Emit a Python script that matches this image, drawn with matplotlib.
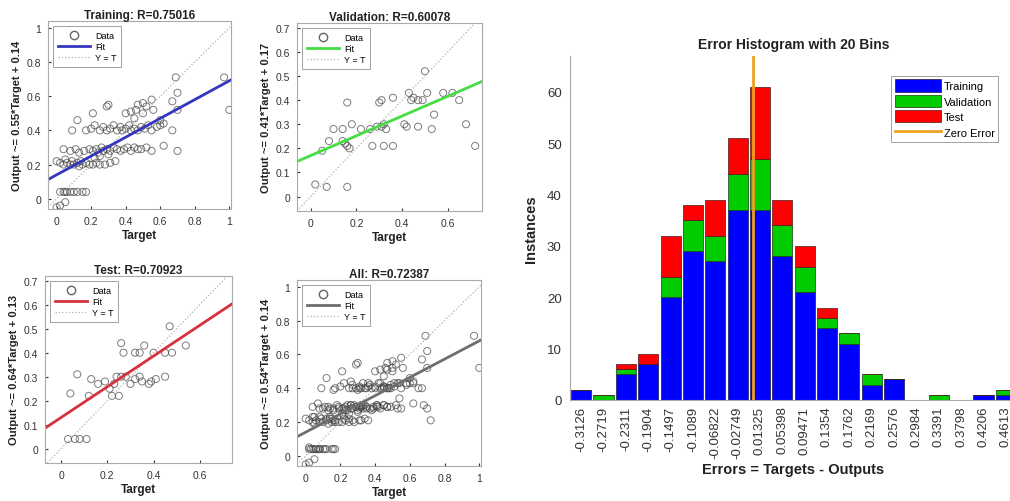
import matplotlib

matplotlib.use("Agg")

import matplotlib.pyplot as plt
import numpy as np
from matplotlib.lines import Line2D
from matplotlib.patches import Patch

plt.rcParams["font.family"] = ["Liberation Sans", "DejaVu Sans"]

W, H = 1010, 502

# regression data: (target, output) pairs
train_pts = [
    (0.97, 0.71), (1.0, 0.52), (0.69, 0.71), (0.70, 0.62), (0.67, 0.57), (0.70, 0.52),
    (0.70, 0.28), (0.67, 0.40), (0.62, 0.31), (0.60, 0.46),
    (0.02, 0.04), (0.04, 0.04), (0.05, 0.04), (0.06, 0.04), (0.08, 0.04), (0.10, 0.04),
    (0.12, 0.04), (0.15, 0.04), (0.17, 0.04), (0.0, -0.05), (0.02, -0.04), (0.05, -0.02),
    (0.0, 0.22), (0.02, 0.21), (0.04, 0.20), (0.06, 0.21), (0.08, 0.20), (0.10, 0.20),
    (0.12, 0.21), (0.13, 0.19), (0.15, 0.20), (0.17, 0.21), (0.19, 0.20), (0.21, 0.20),
    (0.23, 0.21), (0.25, 0.20), (0.28, 0.20), (0.31, 0.21), (0.34, 0.22), (0.05, 0.23),
    (0.09, 0.22), (0.14, 0.22),
    (0.04, 0.29), (0.08, 0.28), (0.11, 0.29), (0.13, 0.27), (0.16, 0.28), (0.19, 0.29),
    (0.21, 0.28), (0.23, 0.29), (0.24, 0.27), (0.26, 0.30), (0.27, 0.28), (0.29, 0.29),
    (0.31, 0.28), (0.33, 0.30), (0.35, 0.29), (0.37, 0.28), (0.39, 0.29), (0.41, 0.30),
    (0.43, 0.28), (0.45, 0.30), (0.47, 0.29), (0.49, 0.29), (0.52, 0.30), (0.55, 0.28),
    (0.25, 0.25), (0.22, 0.24), (0.30, 0.26),
    (0.09, 0.40), (0.17, 0.40), (0.20, 0.41), (0.22, 0.43), (0.25, 0.40), (0.27, 0.42),
    (0.29, 0.40), (0.31, 0.41), (0.33, 0.43), (0.35, 0.40), (0.37, 0.42), (0.38, 0.40),
    (0.40, 0.41), (0.42, 0.43), (0.43, 0.40), (0.45, 0.41), (0.47, 0.40), (0.49, 0.42),
    (0.51, 0.41), (0.53, 0.43), (0.55, 0.40), (0.58, 0.42), (0.60, 0.43), (0.62, 0.44),
    (0.12, 0.46), (0.21, 0.50), (0.29, 0.54), (0.30, 0.55), (0.43, 0.51), (0.46, 0.52),
    (0.47, 0.55), (0.50, 0.56), (0.52, 0.54), (0.55, 0.58), (0.50, 0.50), (0.56, 0.52),
    (0.45, 0.47), (0.40, 0.50),
]
val_pts = [
    (0.50, 0.52), (0.16, 0.39), (0.31, 0.40), (0.30, 0.39), (0.36, 0.41), (0.43, 0.43),
    (0.44, 0.40), (0.45, 0.41), (0.47, 0.40), (0.49, 0.40), (0.51, 0.43), (0.58, 0.43),
    (0.62, 0.43), (0.65, 0.40), (0.54, 0.34), (0.68, 0.30), (0.72, 0.21), (0.47, 0.29),
    (0.53, 0.28), (0.42, 0.29), (0.41, 0.30), (0.32, 0.30), (0.31, 0.29), (0.29, 0.29),
    (0.26, 0.28), (0.33, 0.28), (0.22, 0.28), (0.18, 0.30), (0.14, 0.28), (0.10, 0.28),
    (0.08, 0.23), (0.05, 0.19), (0.15, 0.22), (0.16, 0.21), (0.17, 0.20), (0.27, 0.21),
    (0.32, 0.21), (0.36, 0.21), (0.02, 0.05), (0.07, 0.04), (0.16, 0.04), (0.14, 0.23),
]
test_pts = [
    (0.47, 0.51), (0.26, 0.44), (0.27, 0.40), (0.36, 0.43), (0.34, 0.40), (0.32, 0.40),
    (0.40, 0.40), (0.45, 0.40), (0.48, 0.40), (0.54, 0.43), (0.07, 0.31), (0.04, 0.23),
    (0.13, 0.29), (0.16, 0.27), (0.19, 0.28), (0.24, 0.30), (0.26, 0.30), (0.23, 0.27),
    (0.28, 0.30), (0.30, 0.27), (0.32, 0.29), (0.34, 0.30), (0.35, 0.28), (0.38, 0.27),
    (0.39, 0.28), (0.41, 0.29), (0.45, 0.30), (0.21, 0.25), (0.22, 0.22), (0.25, 0.22),
    (0.12, 0.22), (0.03, 0.04), (0.06, 0.04), (0.08, 0.04), (0.11, 0.04),
]

panels = [
    # title, points, fit slope, intercept, colour, slope text, intercept text
    ("Training: R=0.75016", train_pts, 0.55, 0.14, "#3535c0", "0.55", "0.14"),
    ("Validation: R=0.60078", val_pts, 0.41, 0.17, "#44dd44", "0.41", "0.17"),
    ("Test: R=0.70923", test_pts, 0.64, 0.13, "#d6323c", "0.64", "0.13"),
    ("All: R=0.72387", train_pts + val_pts + test_pts, 0.54, 0.14, "#6e6e6e", "0.54", "0.14"),
]
boxes = [(48, 22, 231, 210), (297, 24, 482, 212), (45, 277, 232, 464), (297, 281, 481, 467)]
lims = [((-0.05, 1.01), (-0.06, 1.04)), ((-0.06, 0.75), (-0.06, 0.72)),
        ((-0.07, 0.74), (-0.06, 0.72)), ((-0.05, 1.01), (-0.06, 1.04))]
xticks = [np.arange(0, 1.01, 0.2), np.arange(0, 0.61, 0.2), np.arange(0, 0.61, 0.2), np.arange(0, 1.01, 0.2)]
yticks = [np.arange(0, 1.01, 0.2), np.arange(0, 0.71, 0.1), np.arange(0, 0.71, 0.1), np.arange(0, 1.01, 0.2)]

# histogram data
bin_labels = ["-0.3126", "-0.2719", "-0.2311", "-0.1904", "-0.1497", "-0.1089", "-0.06822",
              "-0.02749", "0.01325", "0.05398", "0.09471", "0.1354", "0.1762", "0.2169",
              "0.2576", "0.2984", "0.3391", "0.3798", "0.4206", "0.4613"]
hist_train = [2, 0, 5, 7, 20, 29, 27, 37, 37, 28, 21, 14, 11, 3, 4, 0, 0, 0, 1, 1]
hist_val = [0, 1, 1, 0, 4, 6, 5, 7, 10, 6, 5, 2, 2, 2, 0, 0, 1, 0, 0, 1]
hist_test = [0, 0, 1, 2, 8, 3, 7, 7, 14, 5, 4, 2, 0, 0, 0, 0, 0, 0, 0, 0]


def px_axes(fig, x0, y0, x1, y1):
    return fig.add_axes([x0 / W, (H - y1) / H, (x1 - x0) / W, (y1 - y0) / H])


fig = plt.figure(figsize=(W / 100, H / 100), dpi=100)

for i, (title, pts, a, b, color, sa, sb) in enumerate(panels):
    ax = px_axes(fig, *boxes[i])
    t = np.array([p[0] for p in pts])
    o = np.array([p[1] for p in pts])
    xl, yl = lims[i]
    ax.plot(xl, xl, ls=":", color="#b0b0b0", lw=0.9)
    xs = np.array(xl)
    ax.plot(xs, a * xs + b, color=color, lw=2.0)
    ax.scatter(t, o, s=26, facecolors="none", edgecolors="#444444", linewidths=0.7, alpha=0.7)
    ax.set_xlim(xl)
    ax.set_ylim(yl)
    ax.set_xticks(xticks[i])
    ax.set_yticks(yticks[i])
    ax.set_xticklabels([f"{v:g}" for v in xticks[i]])
    ax.set_yticklabels([f"{v:g}" for v in yticks[i]])
    ax.tick_params(labelsize=7.5, length=2, colors="#333333", direction="in", pad=5)
    for s in ax.spines.values():
        s.set_color("#aaaaaa")
        s.set_linewidth(0.8)
    ax.set_title(title, fontsize=8.5, fontweight="bold", pad=2, color="#222222")
    ax.set_xlabel("Target", fontsize=8.5, fontweight="bold", labelpad=2, color="#222222")
    ax.set_ylabel(f"Output ~= {sa}*Target + {sb}", fontsize=8, fontweight="bold",
                  labelpad=3, color="#222222")
    handles = [
        Line2D([], [], marker="o", ls="none", mfc="none", mec="#666666", ms=6),
        Line2D([], [], color=color, lw=2),
        Line2D([], [], color="#b0b0b0", ls=":", lw=0.9),
    ]
    leg = ax.legend(handles, ["Data", "Fit", "Y = T"], loc="upper left", fontsize=6.5,
                    frameon=True, fancybox=False, borderpad=0.5, labelspacing=0.25,
                    handlelength=3.6, handletextpad=0.5, borderaxespad=0.6)
    leg.get_frame().set_edgecolor("#888888")
    leg.get_frame().set_linewidth(0.7)

# error histogram
centers = np.array([float(v) for v in bin_labels])
step = np.mean(np.diff(centers))
ax = px_axes(fig, 570, 57, 1017, 401)
train = np.array(hist_train)
val = np.array(hist_val)
test = np.array(hist_test)
bw = 0.9 * step
b1 = ax.bar(centers, train, width=bw, color="#0000ff", edgecolor="#1a1a4a", lw=0.5)
b2 = ax.bar(centers, val, width=bw, bottom=train, color="#00cc00", edgecolor="#1a3a1a", lw=0.5)
b3 = ax.bar(centers, test, width=bw, bottom=train + val, color="#ff0000", edgecolor="#4a1a1a",
            lw=0.5)
zl = ax.axvline(0, color="#f0a020", lw=2)
ax.set_xlim(centers[0] - 0.5 * step, centers[-1] + 0.5 * step)
ax.set_ylim(0, 67)
ax.set_yticks(np.arange(0, 61, 10))
ax.set_xticks(centers)
ax.set_xticklabels(bin_labels, rotation=90, fontsize=9.5)
ax.tick_params(axis="y", labelsize=9.5, length=0, colors="#333333", pad=6)
ax.tick_params(axis="x", length=0, colors="#333333", pad=4)
for side in ["top", "right"]:
    ax.spines[side].set_visible(False)
for side in ["left", "bottom"]:
    ax.spines[side].set_color("#aaaaaa")
ax.set_title("Error Histogram with 20 Bins", fontsize=10, fontweight="bold", pad=6,
             color="#222222")
ax.set_xlabel("Errors = Targets - Outputs", fontsize=10.5, fontweight="bold", labelpad=3,
              color="#222222")
ax.set_ylabel("Instances", fontsize=10.5, fontweight="bold", labelpad=6, color="#222222")
leg = ax.legend([b1, b2, b3, zl], ["Training", "Validation", "Test", "Zero Error"],
                loc="upper right", bbox_to_anchor=(1004 / W, (H - 71) / H),
                bbox_transform=fig.transFigure, fontsize=8, frameon=True, fancybox=False,
                borderpad=0.35, labelspacing=0.3, handlelength=4.2, handleheight=1.3,
                handletextpad=0.2)
leg.get_frame().set_edgecolor("#888888")
leg.get_frame().set_linewidth(0.7)

fig.savefig("out.png", dpi=100)
